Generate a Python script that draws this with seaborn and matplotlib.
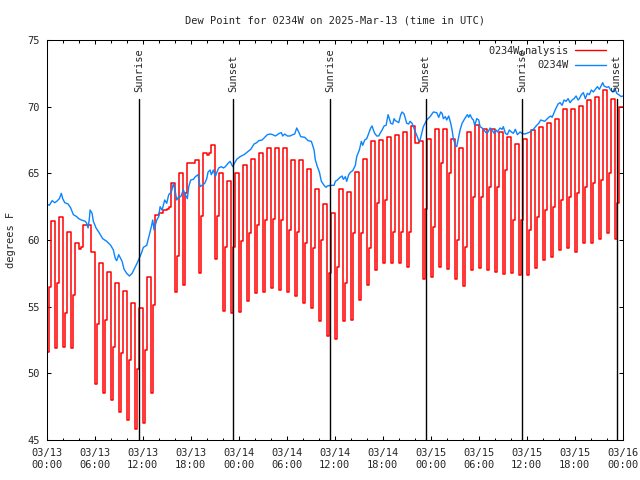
import pandas as pd
import seaborn as sns
import matplotlib
matplotlib.use("Agg")
import matplotlib.pyplot as plt
import matplotlib.dates as mdates

# Dew point, 0234W, 2025-03-13 .. 2025-03-16 (UTC)

# Analysis series: value before 00:05, then per hour a low, mid and high step
red_first = 61.3
red_lo = [51.6, 51.9, 52.0, 51.9, 59.3, 61.1, 49.2, 48.5, 48.0, 47.1, 46.5, 45.8,
          46.25, 48.5, 62.0, 62.3, 56.1, 56.6, 65.8, 57.5, 66.4, 58.6, 54.7, 54.5,
          54.6, 55.4, 56.0, 56.1, 56.4, 56.25, 56.1, 55.8, 55.25, 54.9, 53.9, 52.8,
          52.6, 53.9, 54.0, 55.5, 56.6, 57.75, 58.25, 58.25, 58.25, 58.0, 67.3, 57.1,
          57.2, 57.95, 57.8, 57.05, 56.55, 57.75, 57.9, 57.75, 57.6, 57.45, 57.5, 57.4,
          57.4, 57.9, 58.5, 58.75, 59.25, 59.4, 59.1, 59.75, 59.75, 60.1, 60.55, 60.05]
red_mid = [56.5, 56.8, 54.5, 55.9, 59.5, 61.1, 53.7, 54.0, 52.0, 51.5, 51.0, 50.3,
           51.75, 55.1, 62.0, 62.5, 58.8, 63.5, 65.8, 61.8, 66.5, 61.8, 59.5, 59.5,
           59.9, 60.5, 61.1, 61.5, 61.6, 61.5, 60.75, 60.6, 59.8, 59.4, 60.0, 57.5,
           58.0, 56.75, 60.5, 60.5, 59.4, 62.75, 63.0, 60.6, 60.6, 60.6, 67.3, 62.3,
           61.0, 65.75, 65.0, 60.0, 59.5, 63.25, 63.25, 64.0, 64.0, 65.25, 61.5, 61.5,
           60.75, 61.75, 62.25, 62.5, 63.0, 63.25, 63.5, 64.0, 64.25, 64.5, 65.0, 62.75]
red_hi = [61.4, 61.7, 60.6, 59.8, 61.1, 59.1, 58.25, 57.6, 56.75, 56.2, 55.25, 54.9,
          57.2, 61.9, 62.25, 64.25, 65.0, 65.8, 66.0, 66.55, 67.1, 65.0, 64.45, 65.0,
          65.6, 66.1, 66.5, 66.9, 66.9, 66.9, 66.0, 66.0, 65.3, 63.8, 62.7, 62.0,
          63.8, 63.6, 65.1, 66.1, 67.4, 67.5, 67.75, 67.9, 68.1, 68.55, 67.4, 67.55,
          68.3, 68.3, 67.55, 66.9, 68.1, 68.6, 68.3, 68.3, 68.1, 67.7, 67.2, 67.6,
          68.25, 68.5, 68.75, 69.05, 69.8, 69.8, 70.05, 70.5, 70.75, 71.25, 70.6, 70.0]

# Station series (hours since 03/13 00:00, deg F)
blue_hours = [0.0, 0.33, 0.67, 1.0, 1.25, 1.58, 1.83, 2.0, 2.25, 2.67, 3.0, 3.33, 3.75,
              4.0, 4.33, 4.83, 5.0, 5.17, 5.33, 5.42, 5.67, 5.83, 6.17, 6.5, 7.0, 7.5,
              8.0, 8.33, 8.58, 8.75, 9.0, 9.17, 9.42, 9.67, 10.0, 10.33, 10.67, 11.0,
              11.33, 11.83, 12.08, 12.5, 12.83, 13.08, 13.25, 13.42, 13.75, 14.0, 14.17,
              14.42, 14.75, 15.0, 15.25, 15.58, 15.83, 16.08, 16.25, 16.5, 16.75, 17.08,
              17.33, 17.58, 17.75, 18.0, 18.33, 18.58, 18.92, 19.17, 19.42, 19.75, 20.0,
              20.17, 20.42, 20.58, 20.83, 21.08, 21.25, 21.5, 21.83, 22.08, 22.33, 22.67,
              22.92, 23.25, 23.5, 23.75, 24.17, 24.67, 25.08, 25.5, 25.92, 26.25, 26.5,
              26.92, 27.25, 27.58, 27.92, 28.25, 28.58, 28.83, 29.08, 29.33, 29.5, 29.75,
              30.08, 30.42, 30.75, 31.0, 31.25, 31.5, 31.75, 32.25, 32.67, 33.08, 33.42,
              33.58, 33.83, 34.08, 34.33, 34.67, 34.92, 35.08, 35.5, 35.92, 36.08, 36.33,
              36.67, 36.92, 37.08, 37.33, 37.5, 37.75, 38.0, 38.25, 38.42, 38.58, 38.75,
              38.92, 39.08, 39.33, 39.5, 39.75, 40.0, 40.25, 40.5, 40.67, 40.83, 41.0,
              41.25, 41.5, 41.67, 41.92, 42.17, 42.42, 42.67, 42.83, 43.0, 43.25, 43.42,
              43.58, 43.75, 44.0, 44.25, 44.42, 44.67, 44.83, 45.0, 45.25, 45.42, 45.67,
              45.83, 46.08, 46.33, 46.5, 46.67, 46.83, 47.08, 47.5, 47.92, 48.33, 48.75,
              49.0, 49.25, 49.42, 49.58, 49.83, 50.0, 50.25, 50.5, 50.67, 50.83, 51.08,
              51.25, 51.42, 51.67, 51.92, 52.25, 52.58, 52.75, 52.92, 53.17, 53.33, 53.5,
              53.75, 54.0, 54.17, 54.42, 54.67, 54.83, 55.0, 55.17, 55.42, 55.67, 55.92,
              56.17, 56.33, 56.67, 56.92, 57.08, 57.33, 57.58, 57.83, 58.08, 58.33, 58.58,
              58.83, 59.17, 59.42, 59.75, 60.0, 60.42, 60.83, 61.25, 61.5, 61.75, 62.0,
              62.25, 62.5, 62.75, 63.0, 63.17, 63.42, 63.67, 63.92, 64.17, 64.42, 64.67,
              64.92, 65.17, 65.42, 65.67, 65.92, 66.17, 66.42, 66.58, 66.83, 67.08, 67.33,
              67.58, 67.83, 68.08, 68.33, 68.58, 68.83, 69.08, 69.33, 69.5, 69.67, 70.0,
              70.25, 70.5, 70.75, 71.0, 71.25, 71.5, 71.83, 72.0]
blue_vals = [62.7, 62.6, 62.95, 62.8, 62.9, 63.1, 63.5, 63.1, 62.8, 62.7, 62.4, 61.9, 61.75,
             61.6, 61.5, 61.4, 61.25, 60.9, 61.6, 62.25, 62.0, 61.4, 60.9, 60.6, 60.1, 59.9,
             59.6, 59.25, 58.6, 58.45, 58.9, 58.7, 58.4, 57.8, 57.5, 57.3, 57.5, 57.9,
             58.3, 59.0, 59.45, 59.6, 60.4, 61.0, 61.5, 60.75, 61.5, 61.75, 62.5,
             62.25, 63.0, 62.75, 63.4, 63.6, 64.25, 63.6, 63.0, 63.25, 63.25, 63.75,
             63.4, 63.1, 64.0, 64.5, 64.55, 64.75, 64.9, 64.0, 64.1, 64.25, 64.6,
             65.1, 65.25, 64.9, 65.25, 64.75, 65.05, 65.4, 65.5, 65.4, 65.5, 65.75,
             65.9, 65.5, 65.8, 66.05, 66.25, 66.4, 66.6, 66.8, 67.2, 67.3, 67.45,
             67.5, 67.7, 67.9, 67.95, 67.9, 67.8, 67.9, 68.0, 68.05, 67.8, 67.95,
             67.8, 67.8, 67.9, 67.95, 68.4, 68.1, 67.75, 67.7, 67.45, 67.4, 66.75,
             66.0, 65.5, 65.1, 64.4, 64.1, 63.95, 64.05, 64.1, 64.1, 64.4, 64.5,
             64.7, 64.8, 64.55, 64.75, 64.4, 64.9, 65.1, 65.2, 65.4, 65.6, 66.25,
             66.5, 66.75, 67.4, 67.1, 67.5, 67.6, 68.0, 68.4, 68.55, 68.25, 68.0,
             67.8, 67.8, 68.0, 68.25, 68.55, 68.6, 69.4, 69.1, 68.75, 68.7, 69.1,
             68.95, 68.9, 68.8, 69.4, 69.6, 69.45, 69.1, 68.75, 68.7, 68.9, 68.75,
             68.5, 68.1, 67.75, 67.45, 67.5, 67.9, 68.5, 69.0, 69.25, 69.6, 69.55,
             69.2, 69.6, 69.5, 69.1, 69.25, 69.0, 69.3, 68.75, 68.25, 67.6, 67.1,
             67.0, 67.5, 68.25, 68.75, 69.1, 69.4, 69.2, 69.4, 69.1, 69.0, 68.6,
             69.1, 69.0, 68.5, 68.4, 68.25, 68.1, 68.0, 68.1, 68.4, 68.25, 68.0,
             68.25, 68.1, 68.4, 68.3, 68.5, 68.0, 67.9, 68.25, 68.1, 68.0, 68.3,
             67.9, 68.1, 68.0, 67.95, 68.0, 68.1, 68.3, 68.6, 68.75, 69.0, 68.95,
             68.9, 69.05, 69.2, 69.3, 69.2, 69.55, 69.9, 70.2, 70.3, 70.1, 70.5,
             70.4, 70.6, 70.3, 70.5, 70.6, 70.8, 70.5, 70.6, 70.9, 71.05, 70.6,
             71.0, 70.9, 71.25, 71.1, 71.3, 71.5, 71.3, 71.6, 71.8, 71.55, 71.45,
             71.5, 71.25, 71.1, 71.4, 71.0, 70.9, 70.75, 70.8]

sun_hours = [11.58, 23.33, 35.46, 47.35, 59.38, 71.25]
sun_names = ["Sunrise", "Sunset", "Sunrise", "Sunset", "Sunrise", "Sunset"]

start = pd.Timestamp("2025-03-13 00:00")

# step series for the analysis
red_hours = [0.0]
red_vals = [red_first]
for h in range(len(red_hi)):
    red_hours += [h + 5 / 60, h + 20 / 60, h + 35 / 60]
    red_vals += [red_lo[h], red_mid[h], red_hi[h]]
red_hours.append(72.0)
red_vals.append(red_hi[-1])

red_df = pd.DataFrame({"time": start + pd.to_timedelta(red_hours, unit="h"), "dewpt": red_vals})
blue_df = pd.DataFrame({"time": start + pd.to_timedelta(blue_hours, unit="h"), "dewpt": blue_vals})

sns.set_theme(style="ticks")
plt.rcParams["font.family"] = ["DejaVu Sans Mono", "DejaVu Sans"]
plt.rcParams["mathtext.default"] = "regular"

fig = plt.figure(figsize=(6.4, 4.8), dpi=100)
ax = fig.add_axes([0.073, 0.0833, 0.9, 0.8334])

sns.lineplot(data=red_df, x="time", y="dewpt", ax=ax, color="#ff0000", linewidth=1.1,
             drawstyle="steps-post", label=r"0234W$_\mathregular{A}$nalysis")
sns.lineplot(data=blue_df, x="time", y="dewpt", ax=ax, color="#0a84ff", linewidth=1.0,
             label="0234W")

for h, name in zip(sun_hours, sun_names):
    t = start + pd.Timedelta(hours=h)
    ax.plot([t, t], [0, 0.8525], color="black", linewidth=1.0,
            transform=ax.get_xaxis_transform())
    ax.text(t, 0.87, name, rotation=90, ha="center", va="bottom", fontsize=7.5,
            transform=ax.get_xaxis_transform(), clip_on=False)

ax.set_xlim(start, start + pd.Timedelta(hours=72))
ax.set_ylim(45, 75)
ax.set_yticks([45, 50, 55, 60, 65, 70, 75])
ax.xaxis.set_major_locator(mdates.HourLocator(byhour=[0, 6, 12, 18]))
ax.xaxis.set_minor_locator(mdates.HourLocator(interval=2))
ax.xaxis.set_major_formatter(mdates.DateFormatter("%m/%d\n%H:%M"))

ax.tick_params(which="both", direction="in", top=True, right=True, labelsize=7.5,
               color="black", width=0.75)
ax.tick_params(which="major", length=3.2, pad=5)
ax.tick_params(which="minor", length=1.8)
ax.tick_params(axis="x", which="major", pad=6)
for lab in ax.get_xticklabels():
    lab.set_linespacing(1.25)
for s in ax.spines.values():
    s.set_color("black")
    s.set_linewidth(0.75)

ax.set_xlabel("")
ax.set_ylabel("degrees F", fontsize=7.5, labelpad=8)
ax.set_title("Dew Point for 0234W on 2025-Mar-13 (time in UTC)", fontsize=7.5, pad=12)

leg = ax.legend(loc="upper right", bbox_to_anchor=(0.982, 1.006), frameon=False,
                markerfirst=False, fontsize=7.5, handlelength=3.0, labelspacing=0.25,
                borderaxespad=0.2, handletextpad=0.6)
leg.get_lines()[0].set_linewidth(1.0)

plt.savefig("out.png", dpi=100)
